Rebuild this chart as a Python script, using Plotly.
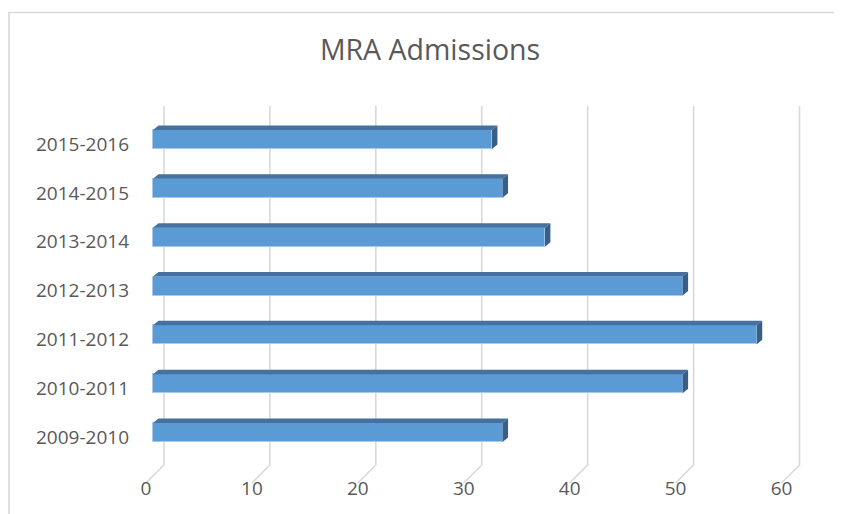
import plotly.graph_objects as go

# ---- data ----
categories = ["2009-2010", "2010-2011", "2011-2012", "2012-2013",
              "2013-2014", "2014-2015", "2015-2016"]
admissions = [33, 50, 57, 50, 37, 33, 32]
x_ticks = [0, 10, 20, 30, 40, 50, 60]
title_text = "MRA Admissions"

# ---- geometry (screen pixels; page body has an 8px margin) ----
OFF = 8
W, H = 842 - OFF, 514 - OFF
KX = 10.6     # px per x unit
KY = 48.83    # px per category
L_M = 146 - OFF
X_MAX = 62.5
Y_BOT_PX = 485 - OFF
Y0_PX = 437 - OFF   # pixel of category 0 label centre
TOP_PX = 106 - OFF
Y_MIN = (Y0_PX - Y_BOT_PX) / KY
Y_MAX = (Y0_PX - TOP_PX) / KY
R_M = W - L_M - X_MAX * KX

floor_front_y = (Y0_PX - (483 - OFF)) / KY
floor_back_y = (Y0_PX - (465 - OFF)) / KY
wall_dx = 18 / KX

bar_x0 = 7 / KX
bar_dy = 4.5 / KY
bar_half = 9.5 / KY
depth_dx = 5.5 / KX
depth_dy = 4.5 / KY

grid_col = "#d9d9d9"
text_col = "#595959"
front_col = "#5b9bd5"
top_col = "#44719f"
side_col = "#375f88"

fig = go.Figure()

# gridlines on back wall and floor (below the bars)
for v in x_ticks:
    fig.add_shape(type="path", xref="x", yref="y", layer="below",
                  path=f"M {v},{floor_front_y} L {v + wall_dx},{floor_back_y} "
                       f"L {v + wall_dx},{Y_MAX}",
                  line=dict(color=grid_col, width=1.6))

# bars: front faces
yc = [i + bar_dy for i in range(len(categories))]
fig.add_trace(go.Bar(
    x=admissions, y=yc, base=bar_x0, orientation="h",
    width=2 * bar_half,
    marker=dict(color=front_col, line=dict(color="#a9c9ea", width=1)),
    showlegend=False, hovertext=categories, hoverinfo="x+text"))

# top and side faces
tx, ty, sx, sy = [], [], [], []
for i, v in enumerate(admissions):
    yt = yc[i] + bar_half
    yb = yc[i] - bar_half
    xl = bar_x0
    xr = bar_x0 + v
    tx += [xl, xr, xr + depth_dx, xl + depth_dx, xl, None]
    ty += [yt, yt, yt + depth_dy, yt + depth_dy, yt, None]
    sx += [xr, xr, xr + depth_dx, xr + depth_dx, xr, None]
    sy += [yb, yt, yt + depth_dy, yb + depth_dy, yb, None]
fig.add_trace(go.Scatter(x=tx, y=ty, mode="lines", fill="toself",
                         fillcolor=top_col, line=dict(width=0, color=top_col),
                         hoverinfo="skip", showlegend=False))
fig.add_trace(go.Scatter(x=sx, y=sy, mode="lines", fill="toself",
                         fillcolor=side_col, line=dict(width=0, color=side_col),
                         hoverinfo="skip", showlegend=False))

plot_w = X_MAX * KX
plot_h = (Y_MAX - Y_MIN) * KY


def px_to_paper_x(px):
    return (px - L_M) / plot_w


def px_to_paper_y(py):
    return (Y_BOT_PX - py) / plot_h


# chart-area border
fig.add_shape(type="rect", xref="paper", yref="paper",
              x0=px_to_paper_x(0.8), x1=px_to_paper_x(860),
              y0=px_to_paper_y(540), y1=px_to_paper_y(12.5 - OFF),
              line=dict(color=grid_col, width=1.6), layer="below")

fig.update_layout(
    width=W, height=H,
    margin=dict(l=L_M, r=R_M, t=TOP_PX, b=H - Y_BOT_PX, pad=0),
    paper_bgcolor="white", plot_bgcolor="white",
    font=dict(family="Open Sans", color=text_col, size=19),
    title=dict(text=title_text, x=(430 - OFF) / W, xanchor="center",
               y=1 - (50 - OFF) / H, yanchor="middle",
               font=dict(family="Open Sans", size=28.5, color=text_col)),
    xaxis=dict(range=[0, X_MAX], tickvals=x_ticks,
               ticktext=[str(v) for v in x_ticks],
               showgrid=False, zeroline=False, showline=False,
               ticks="", ticklabelstandoff=-10,
               tickfont=dict(size=19, color=text_col)),
    yaxis=dict(range=[Y_MIN, Y_MAX], tickvals=list(range(len(categories))),
               ticktext=categories, showgrid=False, zeroline=False,
               showline=False, ticks="", ticklabelstandoff=16,
               tickfont=dict(size=19, color=text_col)),
    bargap=0,
)

fig.write_html("out.html")
